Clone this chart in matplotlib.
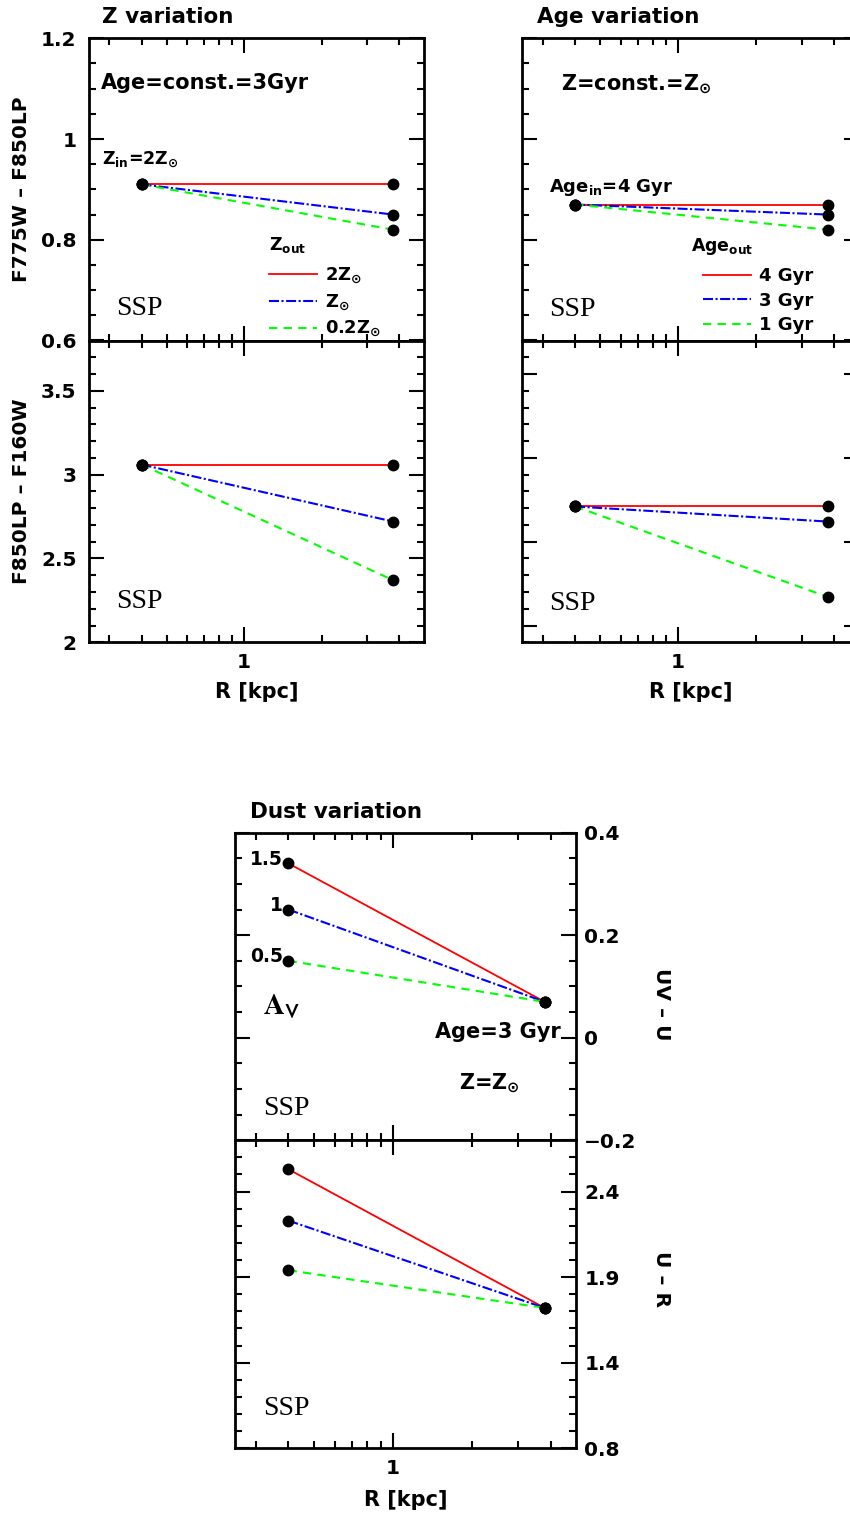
import matplotlib
matplotlib.use("Agg")
import matplotlib.pyplot as plt
from matplotlib.ticker import (FixedLocator, FixedFormatter, MultipleLocator,
                               NullFormatter, FuncFormatter)

plt.rcParams.update({
    "font.family": ["DejaVu Sans"],
    "font.weight": "bold",
    "axes.labelweight": "bold",
    "mathtext.default": "bf",
    "axes.linewidth": 2.0,
})

# ---- data -------------------------------------------------------------
r_in = 0.4          # inner radius [kpc]
r_out = 3.8         # outer radius [kpc]

line_colors = ["#ff0000", "#0000ff", "#00ff00"]
z_labels = [r"2Z$_{\odot}$", r"Z$_{\odot}$", r"0.2Z$_{\odot}$"]
age_labels = ["4 Gyr", "3 Gyr", "1 Gyr"]
av_values = [1.5, 1.0, 0.5]

# Z variation (Age = 3 Gyr, Z_in = 2 Zsun)
zvar_f775_in = 0.91
zvar_f775_out = [0.91, 0.85, 0.82]
zvar_f850_in = 3.06
zvar_f850_out = [3.06, 2.72, 2.37]

# Age variation (Z = Zsun, Age_in = 4 Gyr)
agevar_f775_in = 0.87
agevar_f775_out = [0.87, 0.85, 0.82]
agevar_f850_in = 2.71
agevar_f850_out = [2.71, 2.62, 2.17]

# Dust variation (Age = 3 Gyr, Z = Zsun)
dust_uvu_in = [0.34, 0.25, 0.15]
dust_uvu_out = 0.07
dust_ur_in = [2.53, 2.23, 1.94]
dust_ur_out = 1.72

x_major = [1]
x_minor = [0.3, 0.4, 0.5, 0.6, 0.7, 0.8, 0.9, 2, 3, 4]
ur_ticks = [0.9, 1.4, 1.9, 2.4]
ur_tick_labels = ["0.8", "1.4", "1.9", "2.4"]

# ---- figure -----------------------------------------------------------
W, H = 850, 1515
fig = plt.figure(figsize=(W / 100, H / 100), dpi=100)


def add_px_axes(left, top, right, bottom):
    return fig.add_axes([left / W, 1 - bottom / H, (right - left) / W, (bottom - top) / H])


line_styles = ["-", (0, (4.8, 1.2, 1.0, 1.2)), (0, (4, 3))]
line_widths = [1.3, 1.5, 1.5]

TICK_FS = 14.5
SERIF = ["Liberation Serif", "DejaVu Serif"]

short_num = FuncFormatter(lambda v, pos: f"{v:g}".replace("-", "\u2212"))


def style_axes(ax, ylim, ymajor, yminor, xlabels=True, ylabels="left"):
    ax.set_xscale("log")
    ax.set_xlim(0.25, 5.0)
    ax.set_ylim(*ylim)
    ax.xaxis.set_major_locator(FixedLocator(x_major))
    ax.xaxis.set_minor_locator(FixedLocator(x_minor))
    ax.xaxis.set_major_formatter(FixedFormatter(["1"]))
    ax.xaxis.set_minor_formatter(NullFormatter())
    if ymajor is not None:
        ax.yaxis.set_major_locator(MultipleLocator(ymajor))
    ax.yaxis.set_major_formatter(short_num)
    ax.yaxis.set_minor_locator(MultipleLocator(yminor))
    ax.tick_params(which="both", direction="in", top=True, right=True, width=1.5,
                   labelsize=TICK_FS)
    ax.tick_params(which="major", length=10.5)
    ax.tick_params(which="minor", length=5.3)
    ax.tick_params(axis="x", pad=7.5, labelbottom=xlabels)
    if ylabels == "left":
        ax.tick_params(axis="y", pad=9, labelleft=True, labelright=False)
    elif ylabels == "right":
        ax.tick_params(axis="y", pad=6, labelleft=False, labelright=True)
    else:
        ax.tick_params(axis="y", labelleft=False, labelright=False)


def draw_fan(ax, y_in, y_out):
    """Lines from the inner to the outer radius; y_in/y_out may be scalar or list."""
    n = len(line_colors)
    yi = y_in if isinstance(y_in, list) else [y_in] * n
    yo = y_out if isinstance(y_out, list) else [y_out] * n
    handles = []
    for k in range(n):
        ln, = ax.plot([r_in, r_out], [yi[k], yo[k]], color=line_colors[k],
                      ls=line_styles[k], lw=line_widths[k], zorder=3)
        handles.append(ln)
    ax.plot([r_in] * n + [r_out] * n, yi + yo, "o", color="black", ms=7.5,
            ls="none", zorder=5)
    return handles


def ssp(ax, x, y):
    ax.text(x, y, "SSP", transform=ax.transAxes, family=SERIF, fontweight="normal",
            fontsize=20, va="baseline", ha="left")


def txt(ax, x, y, s, fs=15, **kw):
    ax.text(x, y, s, transform=ax.transAxes, fontsize=fs, va="baseline", ha="left", **kw)


def legend(ax, handles, labels, x, y):
    leg = ax.legend(handles, labels, loc="upper left", bbox_to_anchor=(x, y),
                    frameon=False, fontsize=13, borderpad=0, borderaxespad=0,
                    handlelength=2.65, handletextpad=0.45, labelspacing=0.36)
    for t in leg.get_texts():
        t.set_fontweight("bold")


# ---- Z variation ------------------------------------------------------
ax1 = add_px_axes(89, 38.3, 424, 340.5)
style_axes(ax1, (0.6, 1.2), 0.2, 0.05, xlabels=False)
h = draw_fan(ax1, zvar_f775_in, zvar_f775_out)
ax1.set_ylabel("F775W – F850LP", fontsize=14.5, va="center")
ax1.yaxis.set_label_coords(-0.201, 0.5)
txt(ax1, 0.039, 1.0497, "Z variation", fs=15.5)
txt(ax1, 0.036, 0.8306, "Age=const.=3Gyr", fs=15)
txt(ax1, 0.038, 0.581, r"Z$_{in}$=2Z$_{\odot}$", fs=12.5)
txt(ax1, 0.538, 0.2995, r"Z$_{out}$", fs=12.5)
legend(ax1, h, z_labels, 0.538, 0.248)
ssp(ax1, 0.08, 0.084)

ax2 = add_px_axes(89, 340.5, 424, 642.3)
style_axes(ax2, (2.0, 3.8), 0.5, 0.1)
draw_fan(ax2, zvar_f850_in, zvar_f850_out)
ax2.set_ylabel("F850LP – F160W", fontsize=14.5, va="center")
ax2.yaxis.set_label_coords(-0.201, 0.5)
ax2.set_xlabel("R [kpc]", fontsize=15, va="center")
ax2.xaxis.set_label_coords(0.5, -0.165)
ssp(ax2, 0.08, 0.113)

# ---- Age variation ----------------------------------------------------
ax3 = add_px_axes(522.3, 38.3, 859, 340.5)
style_axes(ax3, (0.6, 1.2), 0.2, 0.05, xlabels=False, ylabels=None)
h = draw_fan(ax3, agevar_f775_in, agevar_f775_out)
txt(ax3, 0.043, 1.0497, "Age variation", fs=15.5)
txt(ax3, 0.114, 0.827, r"Z=const.=Z$_{\odot}$", fs=15)
txt(ax3, 0.079, 0.492, r"Age$_{in}$=4 Gyr", fs=13)
txt(ax3, 0.50, 0.295, r"Age$_{out}$", fs=12.5)
legend(ax3, h, age_labels, 0.536, 0.243)
ssp(ax3, 0.079, 0.082)

ax4 = add_px_axes(522.3, 340.5, 859, 642.3)
style_axes(ax4, (1.9, 3.7), 0.5, 0.1, ylabels=None)
ax4.yaxis.set_major_locator(FixedLocator([2.0, 2.5, 3.0, 3.5]))
draw_fan(ax4, agevar_f850_in, agevar_f850_out)
ax4.set_xlabel("R [kpc]", fontsize=15, va="center")
ax4.xaxis.set_label_coords(0.5, -0.165)
ssp(ax4, 0.079, 0.107)

# ---- Dust variation ---------------------------------------------------
ax5 = add_px_axes(235, 832.7, 576, 1140.2)
style_axes(ax5, (-0.2, 0.4), 0.2, 0.05, xlabels=False, ylabels="right")
draw_fan(ax5, dust_uvu_in, dust_uvu_out)
for av, yv in zip(av_values, dust_uvu_in):
    ax5.annotate(f"{av:g}", xy=(r_in, yv), xytext=(-4, 3), textcoords="offset points",
                 ha="right", va="center", fontsize=13.5)
ax5.yaxis.set_label_position("right")
ax5.set_ylabel("UV – U", fontsize=14.5, rotation=270, va="center")
ax5.yaxis.set_label_coords(1.251, 0.443)
txt(ax5, 0.044, 1.048, "Dust variation", fs=15.5)
ax5.text(0.081, 0.41, r"$\mathrm{A}_{\mathsf{V}}$", transform=ax5.transAxes,
         fontsize=21, va="baseline", ha="left", math_fontfamily="stix")
txt(ax5, 0.587, 0.332, "Age=3 Gyr", fs=15)
txt(ax5, 0.656, 0.167, r"Z=Z$_{\odot}$", fs=15)
ssp(ax5, 0.082, 0.082)

ax6 = add_px_axes(235, 1140.2, 576, 1448.3)
style_axes(ax6, (0.9, 2.7), None, 0.1, ylabels="right")
ax6.yaxis.set_major_locator(FixedLocator(ur_ticks))
ax6.yaxis.set_major_formatter(FixedFormatter(ur_tick_labels))
draw_fan(ax6, dust_ur_in, dust_ur_out)
ax6.yaxis.set_label_position("right")
ax6.set_ylabel("U – R", fontsize=14.5, rotation=270, va="center")
ax6.yaxis.set_label_coords(1.251, 0.549)
ax6.set_xlabel("R [kpc]", fontsize=15, va="center")
ax6.xaxis.set_label_coords(0.5, -0.168)
ssp(ax6, 0.082, 0.108)

fig.savefig("out.png", dpi=100)
